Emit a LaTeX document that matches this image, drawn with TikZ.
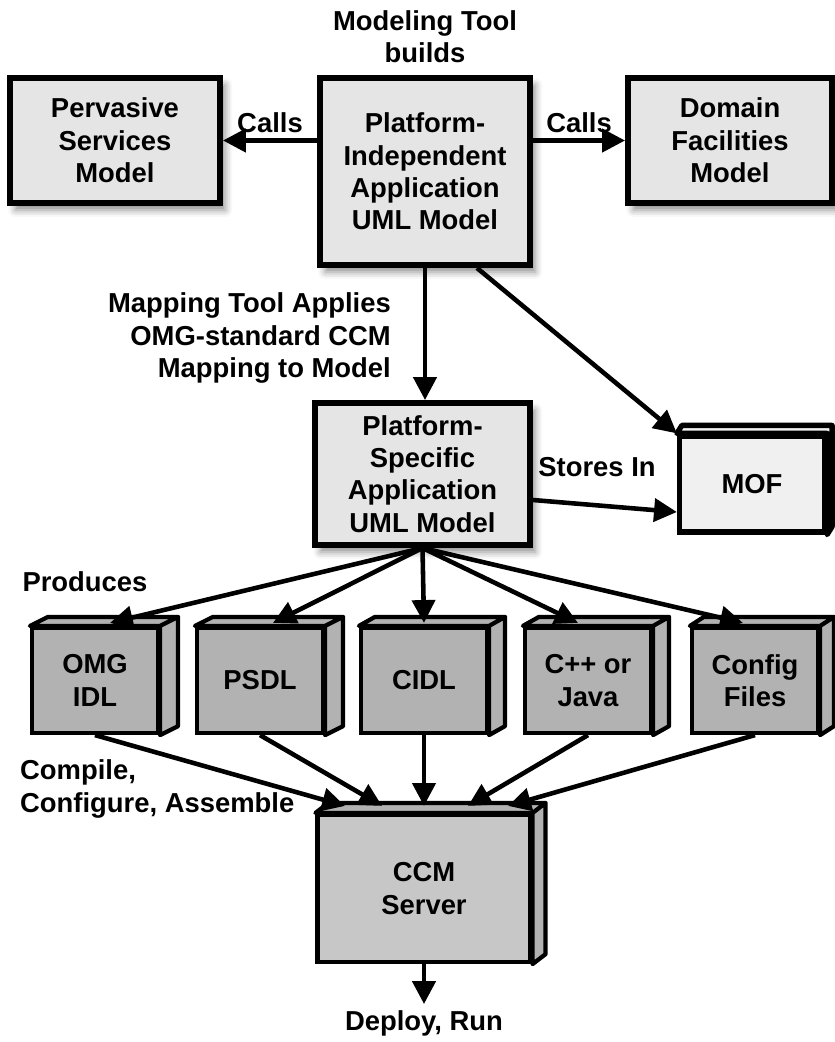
\documentclass[tikz,border=0pt]{standalone}
\usepackage{fontspec}
\setmainfont{Liberation Sans}
\usetikzlibrary{arrows.meta,calc,shadows.blur}

\definecolor{boxlight}{gray}{0.90}
\definecolor{moflight}{gray}{0.94}
\definecolor{boxdark}{gray}{0.70}
\definecolor{serverfill}{gray}{0.78}

\begin{document}
\begin{tikzpicture}[x=0.02cm,y=-0.02cm,
		every node/.style={font=\fontsize{15.6}{18.4}\selectfont\bfseries},
		flow/.style={-{Triangle[length=13pt,width=13pt]},line width=2.6pt},
		model box/.style={rectangle,draw,line width=3.4pt,fill=boxlight,align=center,inner sep=0pt,
			blur shadow={shadow xshift=3pt,shadow yshift=-4pt,shadow blur radius=4pt,shadow opacity=45}},
		cube box/.style={rectangle,draw,line width=2.4pt,fill=boxdark,align=center,inner sep=0pt,
			minimum width=2.52cm,minimum height=2.1cm}]
		
		\useasboundingbox (0,0) rectangle (835,1042);
		
		% models
		\node[model box, minimum width=4.2cm, minimum height=2.5cm] (pervasive) at (115,140.5) {Pervasive\\Services\\Model};
		\node[model box, minimum width=4.2cm, minimum height=3.74cm] (pim) at (425,171.5) {Platform-\\Independent\\Application\\UML Model};
		\node[model box, minimum width=4.08cm, minimum height=2.5cm] (domain) at (730,140.5) {Domain\\Facilities\\Model};
		\node[model box, minimum width=4.3cm, minimum height=2.84cm] (psm) at (422.5,474) {Platform-\\Specific\\Application\\UML Model};
		\node[rectangle, draw, line width=3pt, fill=moflight, minimum width=2.9cm, minimum height=1.92cm] (mof) at (752,484) {MOF};
		\draw[line width=3pt, fill=moflight, line join=round] (mof.north west) -- ++(5,-8) -- ($(mof.north east)+(5,-8)$) -- ($(mof.south east)+(5,-8)$) -- (mof.south east) -- (mof.north east) -- cycle;
		
		% generated artifacts
		\node[cube box] (omg) at (95,680.5) {OMG\\IDL};
		\node[cube box] (psdl) at (260,680.5) {PSDL};
		\node[cube box] (cidl) at (424,680.5) {CIDL};
		\node[cube box] (code) at (588,680.5) {C++ or\\Java};
		\node[cube box] (cfg) at (755,680.5) {Config\\Files};
		\node[cube box, fill=serverfill, minimum width=4.26cm, minimum height=2.94cm] (ccm) at (424,888.5) {CCM\\Server};
		
		\foreach \n/\dx/\dy in {omg/18/-9,psdl/18/-9,cidl/16/-9,code/16/-9,cfg/14/-9,ccm/13/-10}
		\draw[line width=2.4pt, fill=boxdark, line join=round] (\n.north west) -- ++(\dx,\dy) -- ($(\n.north east)+(\dx,\dy)$) -- ($(\n.south east)+(\dx,\dy)$) -- (\n.south east) -- (\n.north east) -- cycle
		(\n.north east) -- ++(\dx,\dy);
		
		% texts
		\node (tool) at (425,37) [align=center] {Modeling Tool\\builds};
		\node (mapping) at (397,338) [anchor=east, align=right] {Mapping Tool Applies\\OMG-standard CCM\\Mapping to Model};
		\node (stores) at (597,467) {Stores In};
		\node (produces) at (85,582) {Produces};
		\node (compile) at (14,789) [anchor=west, align=left] {Compile,\\Configure, Assemble};
		\node (deploy) at (424,1023) {Deploy, Run};
		
		% connectors
		\path[flow]
		(pim.west |- pervasive.east) edge node [above] {Calls} (pervasive.east)
		(pim.east |- domain.west) edge node [above] {Calls} (domain.west)
		(pim.south |- pim.south) edge (pim.south |- psm.north)
		($(pim.south)+(52,0)$) edge (mof.north west)
		($(psm.east)+(0,26)$) edge ($(mof.west)+(0,28)$)
		(ccm.south) edge (deploy.north);
		
		\foreach \n/\dx in {omg/15,psdl/13,cidl/0,code/-10,cfg/-12}
		\draw[flow] (psm.south) -- ($(\n.north)+(\dx,-3)$);
		\foreach \n/\dx in {omg/-79,psdl/-42,cidl/0,code/44,cfg/84}
		\draw[flow] (\n.south) -- ($(ccm.north)+(\dx,-7)$);
	\end{tikzpicture}
\end{document}
